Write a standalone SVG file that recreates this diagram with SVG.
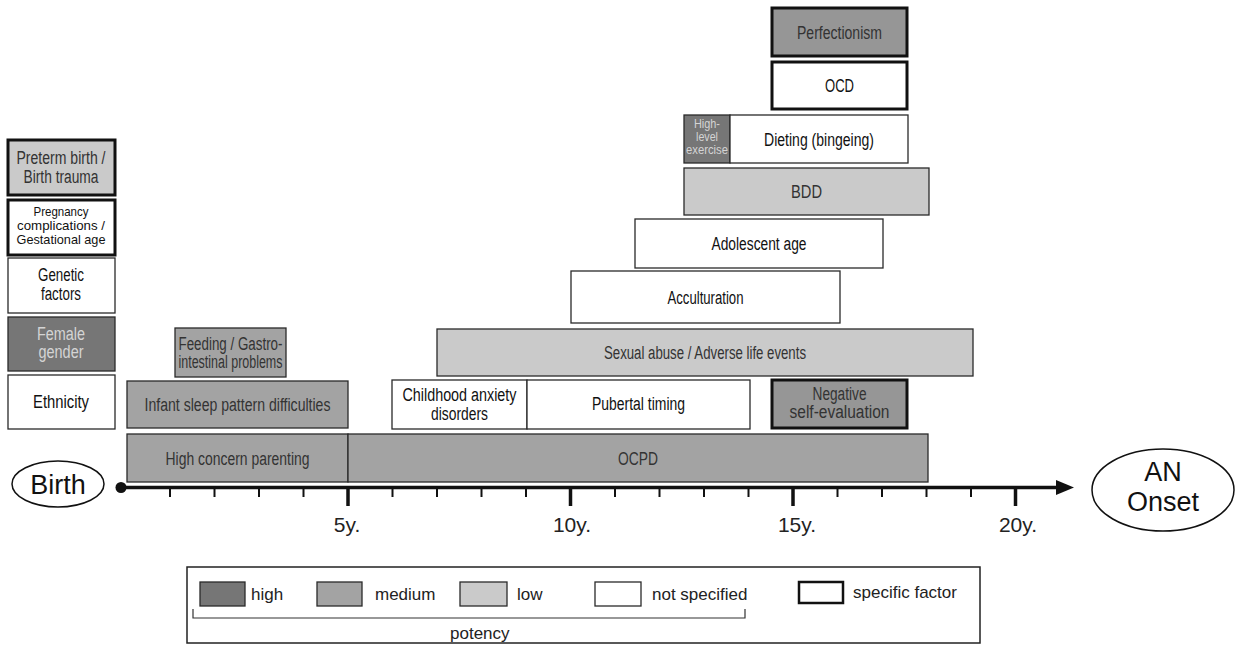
<svg xmlns="http://www.w3.org/2000/svg" width="1237" height="646" viewBox="0 0 1237 646">
<defs>
<style>
.hi{fill:#767676}
.me{fill:#a3a3a3}
.me2{fill:#969696}
.lo{fill:#cacaca}
.ns{fill:#ffffff}
rect{stroke:#2a2a2a;stroke-width:1.3}
rect.sp{stroke:#111;stroke-width:3}
rect.frame{stroke:#222;stroke-width:1.5;fill:#fff}
text{font-family:"Liberation Sans",Arial,sans-serif;font-size:18px;text-anchor:middle;fill:#333}
.dk{fill:#111}
.lt{fill:#d4d4d4}
.sm{font-size:12px}
.sm2{font-size:13.5px}
.big{font-size:27px;fill:#111}
.ax{font-size:21px;fill:#222}
.lg{font-size:17px;text-anchor:start;fill:#222}
.tk{stroke:#111;stroke-width:2}
.tkM{stroke:#111;stroke-width:3.5}
</style>
</defs>

<!-- Left column -->
<g id="preterm"><rect class="lo sp" x="8" y="140" width="107" height="55"/><text x="61" y="164" textLength="89" lengthAdjust="spacingAndGlyphs">Preterm birth /</text><text x="61" y="183" textLength="75" lengthAdjust="spacingAndGlyphs">Birth trauma</text></g>
<g id="pregnancy"><rect class="ns sp" x="8" y="200" width="107" height="55"/><text class="sm2 dk" x="61" y="216" textLength="55" lengthAdjust="spacingAndGlyphs">Pregnancy</text><text class="sm2 dk" x="61" y="230" textLength="88" lengthAdjust="spacingAndGlyphs">complications /</text><text class="sm2 dk" x="61" y="244" textLength="89" lengthAdjust="spacingAndGlyphs">Gestational age</text></g>
<g id="genetic"><rect class="ns" x="8" y="258" width="107" height="55"/><text class="dk" x="61" y="281" textLength="46" lengthAdjust="spacingAndGlyphs">Genetic</text><text class="dk" x="61" y="300" textLength="40" lengthAdjust="spacingAndGlyphs">factors</text></g>
<g id="female"><rect class="hi" x="8" y="317" width="107" height="54"/><text class="lt" x="61" y="340" textLength="48" lengthAdjust="spacingAndGlyphs">Female</text><text class="lt" x="61" y="358" textLength="45" lengthAdjust="spacingAndGlyphs">gender</text></g>
<g id="ethnicity"><rect class="ns" x="8" y="375" width="107" height="54"/><text class="dk" x="61" y="408" textLength="56" lengthAdjust="spacingAndGlyphs">Ethnicity</text></g>

<!-- Timeline bars -->
<g id="feeding"><rect class="me" x="175" y="328" width="111" height="49"/><text x="230.5" y="350" textLength="104" lengthAdjust="spacingAndGlyphs">Feeding / Gastro-</text><text x="230.5" y="368" textLength="104" lengthAdjust="spacingAndGlyphs">intestinal problems</text></g>
<g id="infant-sleep"><rect class="me" x="127" y="381" width="221" height="47"/><text x="237.5" y="411" textLength="186" lengthAdjust="spacingAndGlyphs">Infant sleep pattern difficulties</text></g>
<g id="high-concern"><rect class="me" x="127" y="434" width="221" height="48"/><text x="237.5" y="465" textLength="144" lengthAdjust="spacingAndGlyphs">High concern parenting</text></g>
<g id="ocpd"><rect class="me" x="348" y="434" width="580" height="48"/><text x="638" y="465" textLength="40" lengthAdjust="spacingAndGlyphs">OCPD</text></g>
<g id="childhood-anxiety"><rect class="ns" x="392" y="380" width="135" height="49"/><text class="dk" x="459.5" y="401" textLength="114" lengthAdjust="spacingAndGlyphs">Childhood anxiety</text><text class="dk" x="459.5" y="420" textLength="57" lengthAdjust="spacingAndGlyphs">disorders</text></g>
<g id="pubertal"><rect class="ns" x="527" y="380" width="223" height="49"/><text class="dk" x="638.5" y="410" textLength="93" lengthAdjust="spacingAndGlyphs">Pubertal timing</text></g>
<g id="negative-self"><rect class="me2 sp" x="772" y="380" width="135" height="48"/><text x="839.5" y="400" textLength="54" lengthAdjust="spacingAndGlyphs">Negative</text><text x="839.5" y="418" textLength="100" lengthAdjust="spacingAndGlyphs">self-evaluation</text></g>
<g id="sexual-abuse"><rect class="lo" x="437" y="329" width="536" height="47"/><text x="705" y="359" textLength="202" lengthAdjust="spacingAndGlyphs">Sexual abuse / Adverse life events</text></g>
<g id="acculturation"><rect class="ns" x="571" y="271" width="269" height="52"/><text class="dk" x="705.5" y="304" textLength="76" lengthAdjust="spacingAndGlyphs">Acculturation</text></g>
<g id="adolescent"><rect class="ns" x="635" y="219" width="248" height="49"/><text class="dk" x="759" y="250" textLength="95" lengthAdjust="spacingAndGlyphs">Adolescent age</text></g>
<g id="bdd"><rect class="lo" x="684" y="168" width="245" height="47"/><text x="806.5" y="198" textLength="31" lengthAdjust="spacingAndGlyphs">BDD</text></g>
<g id="exercise"><rect class="hi" x="684" y="115" width="46" height="48"/><text class="sm lt" x="707" y="128" textLength="26" lengthAdjust="spacingAndGlyphs">High-</text><text class="sm lt" x="707" y="141" textLength="22" lengthAdjust="spacingAndGlyphs">level</text><text class="sm lt" x="707" y="154" textLength="42" lengthAdjust="spacingAndGlyphs">exercise</text></g>
<g id="dieting"><rect class="ns" x="730" y="115" width="178" height="48"/><text class="dk" x="819" y="146" textLength="110" lengthAdjust="spacingAndGlyphs">Dieting (bingeing)</text></g>
<g id="ocd"><rect class="ns sp" x="772" y="62" width="135" height="47"/><text class="dk" x="839.5" y="92" textLength="29" lengthAdjust="spacingAndGlyphs">OCD</text></g>
<g id="perfectionism"><rect class="me2 sp" x="772" y="8" width="135" height="48"/><text x="839.5" y="39" textLength="85" lengthAdjust="spacingAndGlyphs">Perfectionism</text></g>

<!-- Endpoints -->
<g id="birth"><ellipse cx="58" cy="484" rx="46" ry="23" fill="#fff" stroke="#111" stroke-width="1.5"/><text class="big" x="58" y="494">Birth</text></g>
<g id="an-onset"><ellipse cx="1163" cy="490" rx="71" ry="41" fill="#fff" stroke="#111" stroke-width="1.5"/><text class="big" x="1163" y="481">AN</text><text class="big" x="1163" y="511">Onset</text></g>

<!-- Timeline axis -->
<g id="connectors">
<line x1="121" y1="487.5" x2="1058" y2="487.5" stroke="#111" stroke-width="3.5"/>
<polygon points="1056,480 1074,487.5 1056,495" fill="#111"/>
<circle cx="121" cy="487.5" r="5.5" fill="#111"/>
<g class="tk">
<line x1="170" y1="489" x2="170" y2="497"/><line x1="214.5" y1="489" x2="214.5" y2="497"/><line x1="259" y1="489" x2="259" y2="497"/><line x1="303.5" y1="489" x2="303.5" y2="497"/>
<line x1="392.5" y1="489" x2="392.5" y2="497"/><line x1="437" y1="489" x2="437" y2="497"/><line x1="481.5" y1="489" x2="481.5" y2="497"/><line x1="526" y1="489" x2="526" y2="497"/>
<line x1="615" y1="489" x2="615" y2="497"/><line x1="659.5" y1="489" x2="659.5" y2="497"/><line x1="704" y1="489" x2="704" y2="497"/><line x1="748.5" y1="489" x2="748.5" y2="497"/>
<line x1="837.5" y1="489" x2="837.5" y2="497"/><line x1="882" y1="489" x2="882" y2="497"/><line x1="926.5" y1="489" x2="926.5" y2="497"/><line x1="971" y1="489" x2="971" y2="497"/>
</g>
<g class="tkM">
<line x1="348" y1="489" x2="348" y2="506"/><line x1="570.5" y1="489" x2="570.5" y2="506"/><line x1="793" y1="489" x2="793" y2="506"/><line x1="1015.5" y1="489" x2="1015.5" y2="506"/>
</g>
<text class="ax" x="347" y="532">5y.</text>
<text class="ax" x="572" y="532">10y.</text>
<text class="ax" x="797" y="532">15y.</text>
<text class="ax" x="1018" y="532">20y.</text>
</g>

<!-- Legend -->
<g id="legend">
<rect class="frame" x="187" y="567" width="793" height="76"/>
<rect class="hi" x="200" y="582" width="45" height="24"/><text class="lg" x="251" y="600">high</text>
<rect class="me" x="317" y="582" width="45" height="24"/><text class="lg" x="375" y="600">medium</text>
<rect class="lo" x="460" y="582" width="47" height="24"/><text class="lg" x="517" y="600">low</text>
<rect class="ns" x="595" y="582" width="46" height="24"/><text class="lg" x="652" y="600">not specified</text>
<rect class="ns sp" x="799" y="582" width="44" height="21" style="stroke-width:2.5"/><text class="lg" x="853" y="598">specific factor</text>
<polyline points="193,609 193,618 745,618 745,609" fill="none" stroke="#333" stroke-width="1.2"/>
<text class="lg" x="450" y="639">potency</text>
</g>
</svg>
